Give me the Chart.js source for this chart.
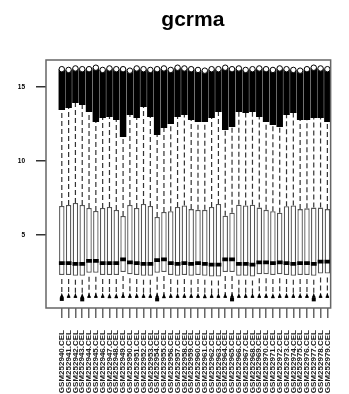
<!DOCTYPE html>
<html>
<head>
<meta charset="utf-8">
<script src="https://cdn.jsdelivr.net/npm/chart.js@4"></script>
<style>
  html, body { margin: 0; padding: 0; background: #fff; overflow: hidden; }
</style>
</head>
<body>
<canvas id="gcrmaChart" width="349" height="394"></canvas>
<script>
// Sample (CEL file) names on the x axis
const sampleNames = [
    'GSM252940.CEL', 'GSM252941.CEL', 'GSM252942.CEL', 'GSM252943.CEL', 'GSM252944.CEL',
    'GSM252945.CEL', 'GSM252946.CEL', 'GSM252947.CEL', 'GSM252948.CEL', 'GSM252949.CEL',
    'GSM252950.CEL', 'GSM252951.CEL', 'GSM252952.CEL', 'GSM252953.CEL', 'GSM252954.CEL',
    'GSM252955.CEL', 'GSM252956.CEL', 'GSM252957.CEL', 'GSM252958.CEL', 'GSM252959.CEL',
    'GSM252960.CEL', 'GSM252961.CEL', 'GSM252962.CEL', 'GSM252963.CEL', 'GSM252964.CEL',
    'GSM252965.CEL', 'GSM252966.CEL', 'GSM252967.CEL', 'GSM252968.CEL', 'GSM252969.CEL',
    'GSM252970.CEL', 'GSM252971.CEL', 'GSM252972.CEL', 'GSM252973.CEL', 'GSM252974.CEL',
    'GSM252975.CEL', 'GSM252976.CEL', 'GSM252977.CEL', 'GSM252978.CEL', 'GSM252979.CEL'
];

// Box statistics (log2 expression)
const q1 = [2.3, 2.3, 2.25, 2.25, 2.45, 2.45, 2.3, 2.3, 2.3, 2.5, 2.35, 2.3, 2.25, 2.25, 2.45, 2.5, 2.3, 2.25, 2.3, 2.25,
            2.3, 2.25, 2.2, 2.2, 2.5, 2.5, 2.25, 2.25, 2.2, 2.35, 2.35, 2.3, 2.35, 2.3, 2.25, 2.3, 2.3, 2.25, 2.4, 2.4];
const medians = [3.1, 3.1, 3.05, 3.05, 3.25, 3.25, 3.1, 3.1, 3.1, 3.35, 3.15, 3.1, 3.05, 3.05, 3.3, 3.35, 3.1, 3.05, 3.1, 3.05,
                 3.1, 3.05, 3.0, 3.0, 3.35, 3.35, 3.05, 3.05, 3.0, 3.15, 3.15, 3.1, 3.15, 3.1, 3.05, 3.1, 3.1, 3.05, 3.2, 3.2];
const q3 = [6.96, 7.03, 7.16, 7.03, 6.82, 6.62, 6.82, 6.89, 6.69, 6.28, 7.03, 6.82, 7.09, 6.96, 6.22, 6.55, 6.6, 6.9, 7.0, 6.75,
            6.7, 6.7, 6.9, 7.1, 6.3, 6.5, 7.05, 7.0, 7.05, 6.85, 6.7, 6.6, 6.5, 6.95, 7.0, 6.75, 6.8, 6.85, 6.85, 6.75];
const lowWhisker = [0.8, 0.8, 0.8, 0.78, 0.8, 0.8, 0.8, 0.78, 0.78, 0.8, 0.8, 0.8, 0.8, 0.8, 0.8, 0.78, 0.8, 0.8, 0.8, 0.8,
                    0.8, 0.78, 0.8, 0.8, 0.8, 0.8, 0.8, 0.8, 0.8, 0.8, 0.8, 0.78, 0.8, 0.8, 0.8, 0.8, 0.8, 0.8, 0.8, 0.8];
const lowOutlier = [0.65, null, null, 0.62, null, null, null, null, null, null, null, null, null, null, 0.62, null, null, null, null, null,
                    null, null, null, null, null, 0.62, null, null, null, null, null, null, null, null, null, null, null, 0.62, null, null];
// Upper outliers form a solid black band from here up to the max
const highOutlierStart = [13.45, 13.58, 13.92, 13.78, 13.31, 12.64, 12.9, 12.97, 12.77, 11.62, 13.1, 12.9, 13.65, 12.97, 11.76, 12.23, 12.5, 12.97, 13.1, 12.77,
                          12.64, 12.64, 12.9, 13.31, 12.09, 12.3, 13.31, 13.24, 13.31, 12.97, 12.64, 12.43, 12.3, 13.1, 13.24, 12.77, 12.77, 12.9, 12.9, 12.64];
const maxValues = [16.2, 16.15, 16.25, 16.2, 16.2, 16.3, 16.15, 16.25, 16.2, 16.2, 16.1, 16.25, 16.2, 16.15, 16.2, 16.25, 16.15, 16.3, 16.25, 16.2,
                   16.15, 16.1, 16.2, 16.2, 16.3, 16.2, 16.25, 16.15, 16.2, 16.25, 16.2, 16.15, 16.25, 16.2, 16.15, 16.1, 16.2, 16.3, 16.25, 16.2];

const yTickValues = [5, 10, 15];
const chartTitle = 'gcrma';

// whiskers, staples, outlier circles, frame and title
const boxExtras = {
    id: 'boxExtras',
    afterDatasetsDraw(chart) {
        const { ctx, scales: { x, y } } = chart;
        const unit = x.getPixelForValue(1) - x.getPixelForValue(0);
        ctx.save();

        // dashed whiskers
        ctx.strokeStyle = '#333';
        ctx.lineWidth = 1.2;
        ctx.setLineDash([5, 3]);
        sampleNames.forEach((name, i) => {
            const px = x.getPixelForValue(i);
            ctx.beginPath();
            ctx.moveTo(px, y.getPixelForValue(q3[i]));
            ctx.lineTo(px, y.getPixelForValue(highOutlierStart[i]));
            ctx.moveTo(px, y.getPixelForValue(q1[i]) + 4);
            ctx.lineTo(px, y.getPixelForValue(lowWhisker[i]));
            ctx.stroke();
        });
        ctx.setLineDash([]);

        // lower staple with small triangle of crowded points
        ctx.fillStyle = '#000';
        ctx.strokeStyle = '#000';
        ctx.lineWidth = 1.4;
        sampleNames.forEach((name, i) => {
            const px = x.getPixelForValue(i);
            const py = y.getPixelForValue(lowWhisker[i]);
            ctx.beginPath();
            ctx.moveTo(px - unit * 0.25, py);
            ctx.lineTo(px + unit * 0.25, py);
            ctx.stroke();
            ctx.beginPath();
            ctx.moveTo(px - 1.6, py);
            ctx.lineTo(px + 1.6, py);
            ctx.lineTo(px, py - 4.5);
            ctx.closePath();
            ctx.fill();
            if (lowOutlier[i] !== null) {
                ctx.fillRect(px - 2, y.getPixelForValue(lowOutlier[i]) - 2, 4, 3.5);
            }
        });

        // open circles on top of the outlier band
        ctx.lineWidth = 1;
        sampleNames.forEach((name, i) => {
            const px = x.getPixelForValue(i);
            ctx.beginPath();
            ctx.arc(px, y.getPixelForValue(maxValues[i]), unit * 0.4, 0, Math.PI * 2);
            ctx.fillStyle = '#fff';
            ctx.fill();
            ctx.stroke();
        });
        ctx.restore();
    },
    afterDraw(chart) {
        const { ctx, chartArea } = chart;
        ctx.save();
        ctx.strokeStyle = '#666';
        ctx.lineWidth = 1.5;
        ctx.strokeRect(chartArea.left, chartArea.top, chartArea.right - chartArea.left, chartArea.bottom - chartArea.top);
        ctx.fillStyle = '#000';
        ctx.font = 'bold 21px "Liberation Sans", Arial, sans-serif';
        ctx.textAlign = 'center';
        ctx.textBaseline = 'alphabetic';
        ctx.fillText(chartTitle, (chartArea.left + chartArea.right) / 2 + 4.5, 25.5);
        ctx.restore();
    }
};

const ctx = document.getElementById('gcrmaChart').getContext('2d');
new Chart(ctx, {
    type: 'bar',
    data: {
        datasets: [
            {
                label: 'median',
                data: sampleNames.map((n, i) => ({ x: i, y: [medians[i] - 0.13, medians[i] + 0.13] })),
                backgroundColor: '#000',
                borderWidth: 0,
                barPercentage: 0.85,
                categoryPercentage: 1,
                grouped: false,
                order: 1
            },
            {
                label: 'box',
                data: sampleNames.map((n, i) => ({ x: i, y: [q1[i], q3[i]] })),
                backgroundColor: '#fff',
                borderColor: '#555',
                borderWidth: 1.3,
                borderSkipped: false,
                barPercentage: 0.8,
                categoryPercentage: 1,
                grouped: false,
                order: 2
            },
            {
                label: 'outliers',
                data: sampleNames.map((n, i) => ({ x: i, y: [highOutlierStart[i], maxValues[i]] })),
                backgroundColor: '#000',
                borderWidth: 0,
                barPercentage: 0.95,
                categoryPercentage: 1,
                grouped: false,
                order: 3
            }
        ]
    },
    options: {
        responsive: false,
        animation: false,
        layout: { padding: { top: 60, right: 2, left: 0, bottom: 0 } },
        scales: {
            x: {
                type: 'linear',
                min: -2.32,
                max: 39.48,
                offset: false,
                afterBuildTicks: scale => { scale.ticks = sampleNames.map((n, i) => ({ value: i })); },
                afterFit: scale => { scale.height = 86; },
                grid: { drawOnChartArea: false, offset: false, tickLength: 10, color: '#666', lineWidth: 1.5 },
                border: { display: false },
                ticks: {
                    autoSkip: false,
                    minRotation: 90,
                    maxRotation: 90,
                    padding: 12,
                    color: '#222',
                    font: { size: 8, family: '"Liberation Sans", Arial, sans-serif', weight: 'bold' },
                    callback: value => sampleNames[value] ?? ''
                }
            },
            y: {
                min: 0.07,
                max: 16.82,
                afterBuildTicks: scale => { scale.ticks = yTickValues.map(v => ({ value: v })); },
                afterFit: scale => { scale.width = 46; },
                grid: { drawOnChartArea: false, tickLength: 10, color: '#333', lineWidth: 1.5 },
                border: { display: false },
                ticks: {
                    padding: 11,
                    color: '#000',
                    font: { size: 6.5, family: '"Liberation Sans", Arial, sans-serif', weight: 'bold' }
                }
            }
        },
        plugins: {
            legend: { display: false },
            tooltip: { enabled: false }
        }
    },
    plugins: [boxExtras]
});
</script>
</body>
</html>
